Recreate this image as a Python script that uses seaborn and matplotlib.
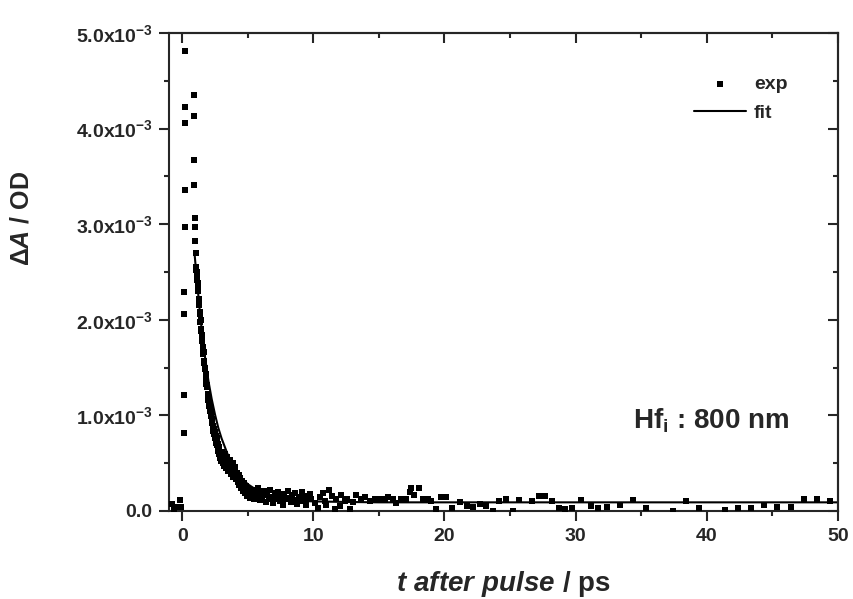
import numpy as np
import pandas as pd
import matplotlib
matplotlib.use("Agg")
import matplotlib.pyplot as plt
import seaborn as sns
from matplotlib.ticker import MultipleLocator, FuncFormatter

t_early = [-0.78, -0.6, -0.44, -0.19, -0.06,
           0.14, 0.14, 0.14, 0.14, 0.19, 0.19, 0.24, 0.24, 0.24,
           0.88, 0.88, 0.88, 0.88, 0.95, 0.95, 1.0, 1.02]
a_early = [0.07, 0.02, 0.04, 0.11, 0.04,
           0.82, 1.21, 2.06, 2.29, 2.97, 3.36, 4.06, 4.23, 4.81,
           4.35, 4.13, 3.67, 3.41, 3.06, 2.97, 2.82, 2.70]

t_decay = [1.05, 1.08, 1.10, 1.13, 1.15, 1.18, 1.20, 1.23, 1.25, 1.28, 1.30, 1.33,
           1.36, 1.38, 1.41, 1.44, 1.46, 1.49, 1.51, 1.54, 1.57, 1.59, 1.62, 1.65,
           1.67, 1.70, 1.72, 1.75, 1.78, 1.80, 1.83, 1.85, 1.88, 1.90, 1.93, 1.96,
           1.98, 2.01, 2.04, 2.06, 2.09, 2.12, 2.14, 2.17, 2.20, 2.22, 2.25, 2.28,
           2.30, 2.33, 2.36, 2.38, 2.41, 2.44, 2.46, 2.49, 2.52, 2.54, 2.57, 2.60,
           2.62, 2.65, 2.68, 2.70, 2.73, 2.76, 2.78, 2.81, 2.84, 2.86, 2.89, 2.92,
           2.94, 2.97, 3.00]
a_decay = [2.55, 2.52, 2.48, 2.50, 2.42, 2.38, 2.33, 2.30, 2.22, 2.18, 2.15, 2.08,
           2.06, 1.98, 2.00, 1.90, 1.88, 1.84, 1.80, 1.78, 1.72, 1.70, 1.64, 1.66,
           1.57, 1.55, 1.50, 1.48, 1.42, 1.43, 1.36, 1.33, 1.30, 1.32, 1.22, 1.20,
           1.16, 1.18, 1.12, 1.10, 1.08, 1.05, 1.07, 1.02, 0.99, 1.00, 0.96, 0.92,
           0.95, 0.89, 0.88, 0.84, 0.86, 0.82, 0.80, 0.83, 0.76, 0.78, 0.74, 0.71,
           0.76, 0.69, 0.72, 0.66, 0.70, 0.63, 0.67, 0.60, 0.64, 0.58, 0.62, 0.55,
           0.60, 0.52, 0.57]

t_mid = [3.05, 3.10, 3.15, 3.20, 3.25, 3.30, 3.35, 3.40, 3.45, 3.50, 3.55, 3.60,
         3.65, 3.70, 3.75, 3.80, 3.85, 3.90, 3.95, 4.00, 4.05, 4.10, 4.15, 4.20,
         4.25, 4.30, 4.35, 4.40, 4.45, 4.50, 4.55, 4.60, 4.65, 4.70, 4.75, 4.80,
         4.85, 4.90, 4.95, 5.00, 5.10, 5.20, 5.30, 5.40, 5.50, 5.60, 5.70, 5.80,
         5.90, 6.00, 6.12, 6.24, 6.36, 6.48, 6.60, 6.72, 6.84, 6.96, 7.08, 7.20,
         7.32, 7.44, 7.56, 7.68, 7.80, 7.92, 8.04, 8.16, 8.28, 8.40, 8.52, 8.64,
         8.76, 8.88, 9.00, 9.12, 9.24, 9.36, 9.48, 9.60, 9.72]
a_mid = [0.62, 0.50, 0.58, 0.47, 0.55, 0.60, 0.45, 0.52, 0.56, 0.42, 0.50, 0.46,
         0.53, 0.39, 0.47, 0.43, 0.50, 0.36, 0.44, 0.40, 0.46, 0.33, 0.40, 0.36,
         0.30, 0.38, 0.27, 0.34, 0.30, 0.24, 0.31, 0.27, 0.21, 0.29, 0.24, 0.19,
         0.26, 0.22, 0.16, 0.24, 0.20, 0.14, 0.22, 0.17, 0.12, 0.20, 0.15, 0.24,
         0.11, 0.18, 0.14, 0.21, 0.09, 0.17, 0.12, 0.22, 0.15, 0.08, 0.19, 0.13,
         0.20, 0.10, 0.16, 0.06, 0.18, 0.12, 0.21, 0.14, 0.09, 0.17, 0.11, 0.19,
         0.07, 0.15, 0.12, 0.20, 0.10, 0.16, 0.06, 0.14, 0.18]

t_tail = [9.85, 10.1, 10.35, 10.5, 10.73, 10.86, 11.0, 11.19, 11.4, 11.62, 11.75,
          12.0, 12.13, 12.38, 12.6, 12.77, 13.0, 13.28, 13.66, 13.91, 14.29, 14.67,
          15.05, 15.43, 15.69, 16.07, 16.32, 16.7, 17.09, 17.34, 17.47, 17.7, 18.05,
          18.35, 18.73, 18.99, 19.37, 19.75, 20.14, 20.6, 21.2, 21.7, 22.2, 22.7,
          23.2, 23.7, 24.2, 24.7, 25.2, 25.7, 26.7, 27.2, 27.7, 28.2, 28.7, 29.2,
          29.7, 30.45, 31.2, 31.7, 32.4, 33.4, 34.4, 35.4, 37.4, 38.4, 39.4, 41.4,
          42.4, 43.4, 44.4, 45.4, 46.4, 47.4, 48.4, 49.4]
a_tail = [0.12, 0.08, 0.03, 0.15, 0.19, 0.10, 0.06, 0.22, 0.16, 0.02, 0.13,
          0.05, 0.17, 0.10, 0.12, 0.02, 0.09, 0.17, 0.12, 0.15, 0.10, 0.13,
          0.12, 0.13, 0.15, 0.12, 0.08, 0.13, 0.12, 0.20, 0.24, 0.17, 0.24,
          0.12, 0.13, 0.10, 0.02, 0.15, 0.15, 0.03, 0.09, 0.05, 0.04, 0.07,
          0.05, 0.00, 0.10, 0.12, 0.00, 0.11, 0.10, 0.16, 0.16, 0.10, 0.03, 0.02,
          0.03, 0.11, 0.05, 0.03, 0.04, 0.06, 0.11, 0.03, 0.00, 0.10, 0.03, 0.01,
          0.03, 0.03, 0.06, 0.04, 0.04, 0.12, 0.13, 0.10]

# fit curve (10^-3 OD)
t_fit = [0.95, 1.0, 1.1, 1.2, 1.35, 1.5, 1.75, 2.0, 2.25, 2.5, 2.75, 3.0, 3.5,
         4.0, 4.5, 5.0, 6.0, 7.0, 8.0, 9.0, 10.0, 12.0, 15.0, 20.0, 30.0, 50.0]
a_fit = [2.68, 2.60, 2.45, 2.30, 2.08, 1.88, 1.60, 1.36, 1.17, 1.01, 0.87, 0.76,
         0.58, 0.45, 0.35, 0.28, 0.19, 0.14, 0.12, 0.105, 0.10, 0.095, 0.09,
         0.09, 0.09, 0.09]

x_ticks = [0, 10, 20, 30, 40, 50]

sns.set_style("ticks")
plt.rcParams["font.family"] = ["Liberation Sans", "DejaVu Sans"]
plt.rcParams["font.weight"] = "bold"
plt.rcParams["mathtext.fontset"] = "custom"
plt.rcParams["mathtext.rm"] = "Liberation Sans:bold"
plt.rcParams["mathtext.bf"] = "Liberation Sans:bold"
plt.rcParams["mathtext.it"] = "Liberation Sans:italic:bold"

exp = pd.DataFrame({
    "t": t_early + t_decay + t_mid + t_tail,
    "dA": np.array(a_early + a_decay + a_mid + a_tail) * 1e-3,
})
fit = pd.DataFrame({"t": t_fit, "dA": np.array(a_fit) * 1e-3})

fig = plt.figure(figsize=(8.54, 5.99), dpi=100)
ax = fig.add_axes([0.198, 0.147, 0.783, 0.798])

sns.scatterplot(data=exp, x="t", y="dA", marker="s", s=14, color="black",
                linewidth=0, label="exp", ax=ax, zorder=3)
sns.lineplot(data=fit, x="t", y="dA", color="black", lw=1.5, label="fit", ax=ax)

ax.set_xlim(-1, 50)
ax.set_ylim(0, 5e-3)
ax.set_xticks(x_ticks)
ax.xaxis.set_minor_locator(MultipleLocator(5))
ax.yaxis.set_major_locator(MultipleLocator(1e-3))
ax.yaxis.set_minor_locator(MultipleLocator(0.5e-3))


def yfmt(v, pos):
    if abs(v) < 1e-9:
        return "0.0"
    return f"{v * 1e3:.1f}x10$^{{-3}}$"


ax.yaxis.set_major_formatter(FuncFormatter(yfmt))
ax.tick_params(which="major", direction="out", length=7, width=1.5, labelsize=14, pad=5)
ax.tick_params(which="minor", direction="out", length=3.5, width=1.5)
for sp in ax.spines.values():
    sp.set_linewidth(1.5)

# inward ticks on the top and right
top = ax.secondary_xaxis("top")
top.set_xticks(x_ticks)
top.xaxis.set_minor_locator(MultipleLocator(5))
top.tick_params(which="major", direction="in", length=7, width=1.5, labeltop=False)
top.tick_params(which="minor", direction="in", length=3.5, width=1.5)
top.spines["top"].set_linewidth(1.5)
right = ax.secondary_yaxis("right")
right.yaxis.set_major_locator(MultipleLocator(1e-3))
right.yaxis.set_minor_locator(MultipleLocator(0.5e-3))
right.tick_params(which="major", direction="in", length=7, width=1.5, labelright=False)
right.tick_params(which="minor", direction="in", length=3.5, width=1.5)
right.spines["right"].set_linewidth(1.5)

ax.set_xlabel(r"$\mathit{t\ after\ pulse}$ / ps", fontsize=20, fontweight="bold")
ax.set_ylabel(r"$\mathit{\Delta A}$ / OD", fontsize=18, fontweight="bold")
ax.xaxis.set_label_coords(0.5, -0.122)
ax.yaxis.set_label_coords(-0.203, 0.613)

ax.text(0.694, 0.172, r"Hf$_\mathrm{i}$ : 800 nm", transform=ax.transAxes,
        fontsize=20, fontweight="bold", va="baseline")

ax.legend(loc="upper right", bbox_to_anchor=(0.925, 0.912), frameon=False,
          prop={"weight": "bold", "size": 14}, handlelength=2.7,
          handletextpad=0.4, labelspacing=0.6, borderpad=0, borderaxespad=0)

fig.savefig("out.png", dpi=100)
